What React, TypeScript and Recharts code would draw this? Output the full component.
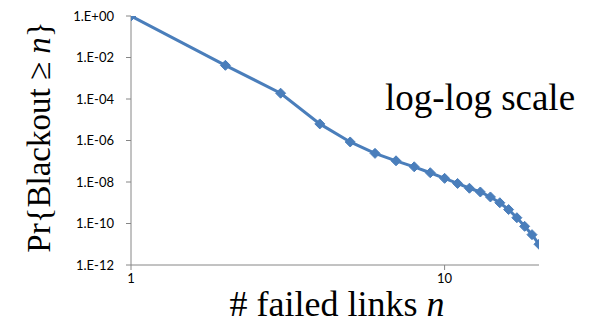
import { LineChart, Line, XAxis, YAxis } from "recharts";

// failed links n = 1..20
const nValues = [1, 2, 3, 4, 5, 6, 7, 8, 9, 10, 11, 12, 13, 14, 15, 16, 17, 18, 19, 20];
// Pr{Blackout >= n}
const probValues = [
  1, 4.2e-3, 1.9e-4, 6.3e-6, 8.5e-7, 2.4e-7, 1.05e-7, 5.4e-8, 2.8e-8, 1.5e-8,
  8.5e-9, 5e-9, 3.3e-9, 1.9e-9, 1.0e-9, 4.7e-10, 1.9e-10, 7.3e-11, 2.9e-11, 1.0e-11,
];
const xTicks = [1, 10];
const yTicks = [1, 1e-2, 1e-4, 1e-6, 1e-8, 1e-10, 1e-12];

const data = nValues.map((n, i) => ({ n, p: probValues[i] }));

const BLUE = "#4a7ebb";
const AXIS = "#868686";
const SERIF = "'Liberation Serif', 'DejaVu Serif', 'Times New Roman', serif";

const fmtExp = (v: number) => {
  const e = Math.round(Math.log10(v));
  return "1.E" + (e >= 0 ? "+" : "-") + String(Math.abs(e)).padStart(2, "0");
};

const Diamond = (props: any) => {
  const { cx, cy } = props;
  if (cx == null || cy == null) return null;
  const r = 5;
  return (
    <polygon
      key={`d-${cx}`}
      points={`${cx},${cy - r} ${cx + r},${cy} ${cx},${cy + r} ${cx - r},${cy}`}
      fill={BLUE}
      stroke={BLUE}
      strokeWidth={1}
    />
  );
};

const App = () => {
  return (
    <div style={{ position: "absolute", left: 0, top: 0, width: 594, height: 323, background: "#fff" }}>
      <LineChart width={594} height={323} data={data} margin={{ top: 16, right: 55, bottom: 28, left: 0 }}>
        <XAxis
          dataKey="n"
          type="number"
          scale="log"
          domain={[1, 20]}
          ticks={xTicks}
          allowDataOverflow
          height={30}
          stroke={AXIS}
          tickSize={5}
          tickMargin={4}
          tick={{ fill: "#000", fontSize: 13, fontFamily: "Lato" }}
          label={{
            content: () => (
              <text x={337} y={316} textAnchor="middle" style={{ fontFamily: SERIF, fontSize: 36 }} fill="#000">
                # failed links <tspan fontStyle="italic">n</tspan>
              </text>
            ),
          }}
        />
        <YAxis
          type="number"
          scale="log"
          domain={[1e-12, 1]}
          ticks={yTicks}
          allowDataOverflow
          width={131}
          stroke={AXIS}
          tickSize={5}
          tickMargin={12}
          tickFormatter={fmtExp}
          tick={{ fill: "#000", fontSize: 13, fontFamily: "Lato" }}
          label={{
            content: () => (
              <text
                x={50}
                y={137}
                transform="rotate(-90 50 137)"
                textAnchor="middle"
                style={{ fontFamily: SERIF, fontSize: 33 }}
                fill="#000"
              >
                Pr{"{"}Blackout ≥ <tspan fontStyle="italic">n</tspan>
                {"}"}
              </text>
            ),
          }}
        />
        <Line
          type="linear"
          dataKey="p"
          stroke={BLUE}
          strokeWidth={3}
          dot={<Diamond />}
          activeDot={false}
          isAnimationActive={false}
        />
      </LineChart>
      <div
        style={{
          position: "absolute",
          left: 385,
          top: 78,
          fontFamily: SERIF,
          fontSize: 37,
          lineHeight: "40px",
          color: "#000",
          whiteSpace: "nowrap",
        }}
      >
        log-log scale
      </div>
    </div>
  );
};

export default App;
